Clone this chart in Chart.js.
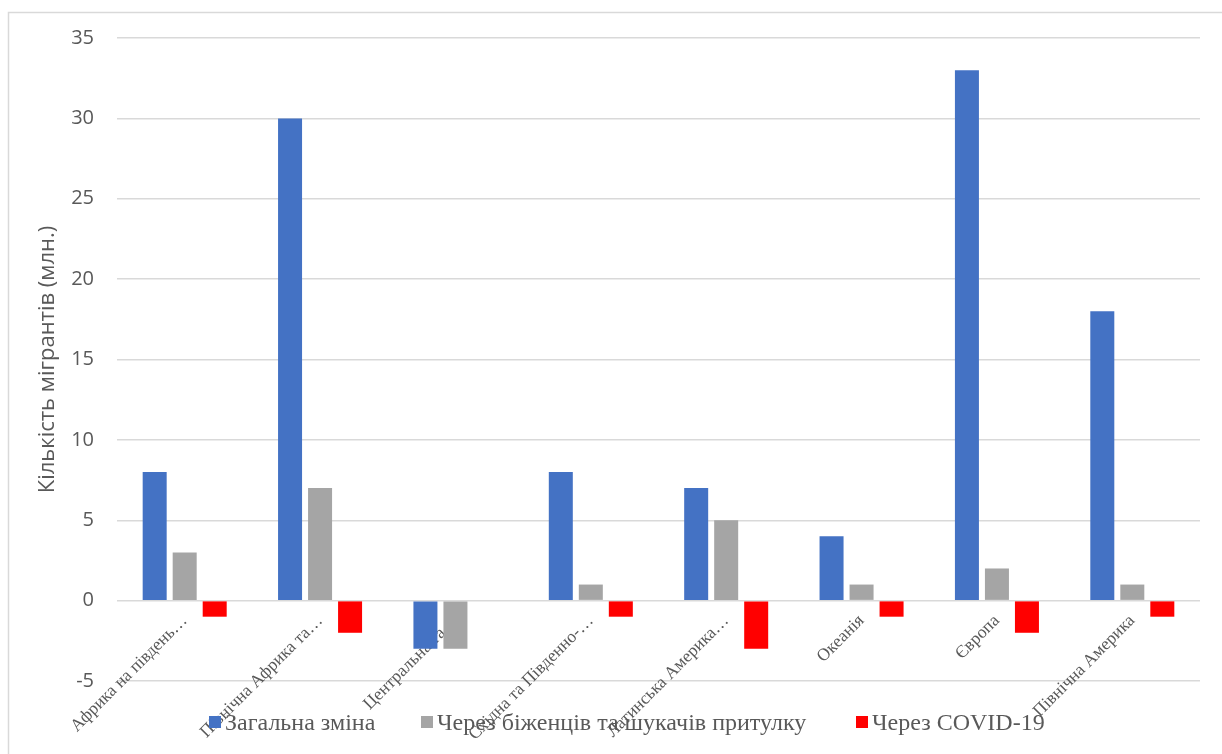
<!DOCTYPE html>
<html>
<head>
<meta charset="utf-8">
<script src="https://cdn.jsdelivr.net/npm/chart.js@4"></script>
<style>
  html, body { margin: 0; padding: 0; background: #fff; }
  canvas { display: block; }
</style>
</head>
<body>
<canvas id="grafica" width="1222" height="754"></canvas>
<script>
const regiones = ["Африка на південь…", "Північна Африка та…", "Центральна та…", "Східна та Південно-…",
  "Латинська Америка…", "Океанія", "Європа", "Північна Америка"];
const series = ["Загальна зміна", "Через біженців та шукачів притулку", "Через COVID-19"];
const zagalna = [8, 30, -3, 8, 7, 4, 33, 18];
const bizhentsi = [3, 7, -3, 1, 5, 1, 2, 1];
const covid = [-1, -2, 0, -1, -3, -1, -2, -1];
const colores = ["#4472C4", "#A5A5A5", "#FF0000"];
const ticksY = [-5, 0, 5, 10, 15, 20, 25, 30, 35];

const gris = "#595959";

// marco gris alrededor del grafico
const marco = {
  id: "marco",
  beforeDraw(chart) {
    const c = chart.ctx;
    c.save();
    c.strokeStyle = "#d9d9d9";
    c.lineWidth = 1.5;
    c.beginPath();
    c.moveTo(8.5, 754);
    c.lineTo(8.5, 12.5);
    c.lineTo(1222, 12.5);
    c.stroke();
    c.restore();
  }
};

// leyenda estilo Excel, encima de las etiquetas
const leyenda = {
  id: "leyenda",
  afterDraw(chart) {
    const c = chart.ctx;
    const xs = [209, 421, 856];
    c.save();
    c.font = "24px 'Liberation Serif'";
    c.textBaseline = "middle";
    chart.data.datasets.forEach((ds, i) => {
      c.fillStyle = ds.backgroundColor;
      c.fillRect(xs[i], 716, 12, 12);
      c.fillStyle = gris;
      c.fillText(ds.label, xs[i] + 16, 724);
    });
    c.restore();
  }
};

const ctx = document.getElementById("grafica").getContext("2d");
new Chart(ctx, {
  type: "bar",
  data: {
    labels: regiones,
    datasets: [
      { label: series[0], data: zagalna, backgroundColor: colores[0] },
      { label: series[1], data: bizhentsi, backgroundColor: colores[1] },
      { label: series[2], data: covid, backgroundColor: colores[2] }
    ]
  },
  options: {
    responsive: false,
    animation: false,
    devicePixelRatio: 1,
    layout: { padding: { left: 0, right: 22, top: 38, bottom: 73 } },
    datasets: { bar: { categoryPercentage: 0.665, barPercentage: 0.8, borderWidth: 0 } },
    plugins: {
      legend: { display: false },
      tooltip: { enabled: false }
    },
    scales: {
      x: {
        position: { y: 0 },
        grid: { display: false },
        border: { display: false },
        ticks: {
          autoSkip: false,
          minRotation: 45,
          maxRotation: 45,
          padding: 2,
          color: gris,
          font: { family: "'Liberation Serif'", size: 17.5 }
        }
      },
      y: {
        min: -5,
        max: 35,
        afterBuildTicks: s => { s.ticks = ticksY.map(v => ({ value: v })); },
        afterFit: s => { s.width = 117; },
        grid: { color: "#d9d9d9", lineWidth: 1.5, drawTicks: false },
        border: { display: false },
        ticks: {
          padding: 23,
          color: gris,
          font: { family: "'Open Sans'", size: 20 }
        },
        title: {
          display: true,
          text: "Кількість мігрантів (млн.)",
          color: gris,
          padding: { top: 35, bottom: 0 },
          font: { family: "'Open Sans'", size: 22 }
        }
      }
    }
  },
  plugins: [marco, leyenda]
});
</script>
</body>
</html>
